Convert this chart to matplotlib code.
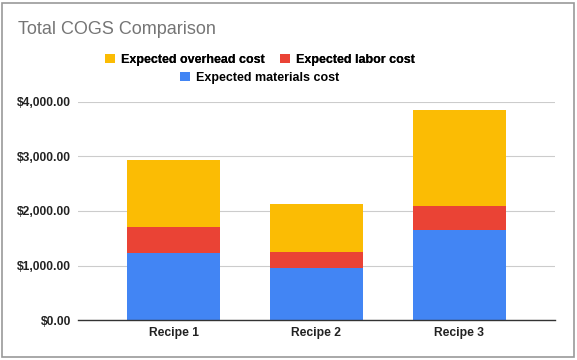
import matplotlib
matplotlib.use("Agg")
import matplotlib.pyplot as plt
from matplotlib.patches import Rectangle
from matplotlib.ticker import FuncFormatter
import numpy as np

# DATA
recipes = ["Recipe 1", "Recipe 2", "Recipe 3"]
materials = [1230, 960, 1650]
labor = [470, 285, 440]
overhead = [1230, 880, 1770]
yticks = [0, 1000, 2000, 3000, 4000]

# COLORS
col_mat = "#4285F4"
col_lab = "#EA4335"
col_ovh = "#FBBC04"

plt.rcParams['font.family'] = ['Liberation Sans', 'DejaVu Sans']

fig = plt.figure(figsize=(5.77, 3.6), dpi=100)
ax = fig.add_axes([0.135, 0.111, 0.827, 0.606])

x = np.arange(len(recipes))
w = 0.65
b1 = ax.bar(x, materials, w, color=col_mat, label="Expected materials cost", zorder=3)
b2 = ax.bar(x, labor, w, bottom=materials, color=col_lab, label="Expected labor cost", zorder=3)
bot = np.add(materials, labor)
b3 = ax.bar(x, overhead, w, bottom=bot, color=col_ovh, label="Expected overhead cost", zorder=3)

ax.set_xlim(-0.67, 2.67)
ax.set_ylim(0, 4000)
ax.set_yticks(yticks)
ax.yaxis.set_major_formatter(FuncFormatter(lambda v, p: "${:,.2f}".format(v)))
ax.set_xticks(x)
ax.set_xticklabels(recipes)
for lab in ax.get_xticklabels() + ax.get_yticklabels():
    lab.set_fontweight("bold")
    lab.set_fontsize(8.7)
    lab.set_color("#222222")
ax.tick_params(length=0, pad=5)
ax.grid(axis="y", color="#cccccc", linewidth=0.8, zorder=0)
for s in ["top", "right", "left"]:
    ax.spines[s].set_visible(False)
ax.spines["bottom"].set_color("#333333")
ax.spines["bottom"].set_linewidth(1.0)
ax.spines["bottom"].set_zorder(4)

# TITLE
fig.text(0.031, 0.918, "Total COGS Comparison", fontsize=13, color="#757575",
         ha="left", va="center")

# LEGEND ( TWO CENTERED ROWS )
leg1 = fig.legend(handles=[b3, b2], loc="center", bbox_to_anchor=(0.45, 0.834),
                  ncol=2, frameon=False, handlelength=0.8, handleheight=0.8,
                  handletextpad=0.5, columnspacing=1.2,
                  prop={"weight": "bold", "size": 9})
fig.legend(handles=[b1], loc="center", bbox_to_anchor=(0.45, 0.784),
           frameon=False, handlelength=0.8, handleheight=0.8, handletextpad=0.5,
           prop={"weight": "bold", "size": 9})
fig.add_artist(leg1)

# BORDER
fig.patches.append(Rectangle((0.003, 0.008), 0.991, 0.984, transform=fig.transFigure,
                             fill=False, edgecolor="#999999", linewidth=1.2))

plt.savefig("out.png", dpi=100)
